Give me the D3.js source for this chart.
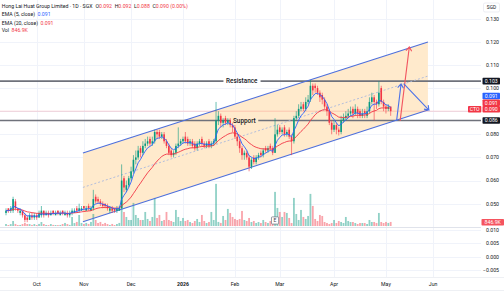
<!DOCTYPE html>
<html lang="en">
<head>
<meta charset="UTF-8">
<script src="https://cdn.jsdelivr.net/npm/d3@7"></script>
<title>Hong Lai Huat Group Limited - 1D</title>
<style>
    body { margin: 0; background: #fff; }
    svg { display: block; font-family: Roboto, "Noto Sans", sans-serif; }
</style>
</head>
<body>
<svg id="chart" width="504" height="294"></svg>
<script>
// ---------------- data ----------------
const opens = [
    .046,.048,.047,.047,.051,.048,.046,.047,.045,.044,.043,.045,.044,
    .045,.044,.045,.047,.045,.046,.045,.047,.045,.047,.045,.047,.045,.046,.045,.046,.046,.048,.047,.047,
    .049,.047,.049,.047,.048,.053,.052,.051,.050,.050,.049,.047,.048,.048,.047,.047,.048,.061,.056,.058,
    .061,.064,.069,.070,.074,.072,.075,.076,.078,.076,.077,.081,.081,.079,.080,.077,.075,.073,.071,.072,.075,.076,
    .077,.079,.078,.076,.077,.076,.074,.076,.078,.076,.075,.077,.075,.076,.077,.086,.088,.085,.087,.085,.086,.084,
    .083,.079,.077,.074,.071,.072,.070,.066,.070,.068,.070,.072,.071,.074,.073,.075,.074,.072,.080,
    .083,.081,.083,.080,.082,.079,.077,.087,.088,.091,.093,.091,.094,.095,.101,.101,.100,.098,.097,.095,.092,.090,.085,
    .082,.084,.082,.081,.086,.087,.088,.089,.091,.089,.091,.090,.088,.090,.088,.090,.094,.096,.094,.093,.100,.094,
    .092,.091,.092
];
const highs = [
    .048,.048,.049,.053,.052,.048,.048,.047,.046,.045,.046,.046,.046,
    .046,.047,.049,.047,.047,.047,.047,.047,.047,.047,.047,.047,.047,.047,.047,.048,.048,.049,.050,.049,
    .049,.049,.050,.049,.056,.054,.053,.052,.051,.050,.050,.049,.049,.048,.049,.049,.067,.062,.060,.062,
    .066,.071,.073,.075,.075,.077,.078,.079,.079,.079,.082,.082,.082,.081,.081,.078,.076,.074,.073,.076,.083,.078,
    .079,.081,.079,.078,.078,.077,.077,.078,.079,.077,.077,.078,.077,.078,.094,.090,.089,.087,.088,.087,.087,.085,
    .084,.080,.078,.075,.073,.073,.071,.070,.071,.071,.072,.073,.074,.075,.075,.076,.075,.087,.084,
    .084,.083,.084,.082,.083,.080,.088,.090,.093,.094,.094,.096,.097,.1035,.102,.102,.101,.099,.098,.096,.093,.091,.086,
    .086,.085,.083,.088,.089,.090,.091,.092,.092,.093,.092,.091,.091,.091,.092,.096,.098,.097,.095,.103,.101,.095,
    .093,.093,.092
];
const lows = [
    .045,.046,.046,.046,.047,.046,.045,.044,.042,.042,.043,.043,.043,
    .043,.044,.044,.044,.045,.044,.045,.045,.045,.045,.045,.045,.045,.044,.044,.045,.046,.046,.046,.047,
    .047,.047,.047,.047,.047,.050,.050,.049,.048,.048,.047,.046,.046,.046,.046,.047,.048,.055,.055,.057,
    .060,.063,.067,.069,.070,.071,.074,.075,.075,.075,.076,.078,.078,.078,.076,.074,.071,.070,.070,.071,.074,.075,
    .076,.076,.075,.075,.074,.073,.073,.075,.075,.074,.074,.074,.074,.075,.076,.084,.083,.083,.084,.084,.083,.081,
    .078,.075,.072,.069,.069,.069,.064,.065,.067,.067,.069,.070,.070,.072,.072,.073,.071,.072,.079,
    .080,.080,.079,.079,.078,.071,.076,.086,.087,.090,.090,.090,.093,.094,.097,.098,.097,.094,.093,.091,.088,.084,.080,
    .081,.080,.0795,.080,.085,.086,.087,.088,.087,.088,.087,.087,.087,.087,.087,.089,.093,.086,.091,.092,.093,.090,
    .089,.090,.088
];
const closes = [
    .047,.047,.048,.052,.048,.047,.047,.045,.043,.043,.045,.044,.045,
    .044,.046,.047,.045,.046,.045,.046,.046,.046,.046,.046,.046,.046,.045,.046,.047,.047,.047,.048,.048,
    .048,.048,.048,.048,.052,.051,.051,.050,.049,.049,.048,.048,.047,.047,.048,.048,.060,.057,.058,.061,
    .064,.069,.070,.073,.072,.075,.076,.077,.076,.077,.081,.080,.079,.080,.077,.075,.072,.071,.072,.075,.076,.077,
    .078,.077,.076,.077,.075,.074,.076,.077,.076,.075,.076,.075,.076,.077,.086,.088,.085,.086,.085,.086,.084,.083,
    .079,.077,.074,.071,.072,.070,.066,.069,.068,.070,.071,.071,.073,.073,.074,.074,.072,.080,.082,
    .081,.082,.080,.081,.079,.077,.087,.088,.091,.092,.091,.094,.095,.101,.099,.100,.098,.096,.095,.092,.090,.085,.082,
    .084,.082,.081,.086,.087,.088,.089,.090,.089,.091,.089,.088,.089,.089,.090,.094,.096,.094,.093,.098,.094,.092,
    .091,.092,.090
];
// volume in thousands of shares
const volumes = [
    420,210,400,1050,430,200,220,410,640,420,400,230,410,
    210,430,840,420,220,200,410,230,210,190,220,420,640,410,230,1890,620,850,2310,640,
    420,640,430,850,2520,1260,630,850,420,640,410,220,430,210,420,640,5460,2940,1890,1260,
    1260,4830,2310,1680,1260,1260,2940,1470,1050,1890,5880,1680,2310,1050,1260,2940,1260,1050,840,3360,1890,1050,
    1680,1050,1260,840,630,1050,1470,840,2310,1050,630,840,2940,1260,8820,850,640,2100,1260,3570,2730,1890,
    1470,1260,1470,3150,1260,1050,1680,840,1050,630,840,630,1260,840,630,1050,840,7140,3780,
    2940,1890,2940,2730,1680,630,5880,2520,1260,3360,1890,1470,2100,6720,4200,1470,1050,2310,2100,840,630,420,630,
    1260,630,1050,840,630,1890,1050,840,840,630,420,630,630,630,420,1260,840,840,630,2730,840,630,
    850,640,846.9
];

// time axis: label and bar index of the first bar of each month
const monthLabels = ["Oct", "Nov", "Dec", "2026", "Feb", "Mar", "Apr", "May", "Jun"];
const monthIdx = [13, 33, 53, 75, 97, 116, 139, 161, 181];

const priceTicks = [0.130, 0.120, 0.110, 0.100, 0.090, 0.080, 0.070, 0.060, 0.050];
const priceTickShown = [true, true, true, true, false, true, true, true, true];
const lowTicks = [0.010, 0.005, 0.000, -0.005];

// indicator values as shown on the chart
const ema5Label = "0.091", ema20Label = "0.091", volLabel = "846.9K";

// drawings, anchored as [bar index, price]
const channelTop = [[32.6, 0.0719], [178.8, 0.1199]];
const channelBottom = [[32.6, 0.0422], [178.8, 0.0905]];
const resistance = 0.103, support = 0.086;
const redArrow = [[167.0, 0.0858], [170.9, 0.1178]];
const blueArrowUp = [[165.5, 0.0858], [167.4, 0.1018]];
const blueArrowDown = [[168.6, 0.1018], [179.2, 0.0905]];
const earningsIdx = 114;

// ---------------- setup ----------------
const UP = "#089981", DOWN = "#f23645", BLUE = "#2962ff";
const paneRight = 481, axisTop = 277;

const x = d3.scaleLinear().domain([0, 1]).range([6, 8.36]);
const y = d3.scaleLinear().domain([0.050, 0.130]).range([203.7, 18.7]);
const yLow = d3.scaleLinear().domain([-0.005, 0.010]).range([270.3, 229.8]);
const yVol = d3.scaleLinear().domain([0, 9000]).range([226, 183]);

const svg = d3.select("#chart");
const fmt = d3.format(".3f");

function ema(vals, n) {
    const k = 2 / (n + 1);
    let e = vals[0];
    return vals.map((v, i) => i === 0 ? e : (e = v * k + e * (1 - k)));
}
const ema5 = ema(closes, 5);
const ema20 = ema(closes, 20);
const bars = closes.map((c, i) => ({ i, o: opens[i], h: highs[i], l: lows[i], c, v: volumes[i] }));

// ---------------- grid ----------------
const grid = svg.append("g").attr("stroke", "#f0f3fa").attr("stroke-width", 1);
grid.selectAll(".hg").data(priceTicks).join("line")
    .attr("x1", 0).attr("x2", paneRight)
    .attr("y1", d => Math.round(y(d)) + 0.5).attr("y2", d => Math.round(y(d)) + 0.5);
grid.selectAll(".lg").data(lowTicks).join("line")
    .attr("x1", 0).attr("x2", paneRight)
    .attr("y1", d => Math.round(yLow(d)) + 0.5).attr("y2", d => Math.round(yLow(d)) + 0.5);
grid.selectAll(".vg").data(monthIdx).join("line")
    .attr("x1", d => Math.round(x(d)) + 0.5).attr("x2", d => Math.round(x(d)) + 0.5)
    .attr("y1", 0).attr("y2", axisTop);

svg.append("line").attr("x1", 0).attr("x2", paneRight).attr("y1", 227.5).attr("y2", 227.5)
    .attr("stroke", "#e0e3eb").attr("stroke-width", 1);
svg.append("line").attr("x1", 0).attr("x2", 504).attr("y1", axisTop + 0.5).attr("y2", axisTop + 0.5)
    .attr("stroke", "#eef0f4").attr("stroke-width", 1);
svg.append("line").attr("x1", 0).attr("x2", 504).attr("y1", 290.5).attr("y2", 290.5)
    .attr("stroke", "#eef0f4").attr("stroke-width", 1);

// ---------------- channel fill ----------------
const pt = p => [x(p[0]), y(p[1])];
svg.append("path")
    .attr("d", "M" + [pt(channelTop[0]), pt(channelTop[1]), pt(channelBottom[1]), pt(channelBottom[0])].join("L") + "Z")
    .attr("fill", "#ffeacc");

// ---------------- volume ----------------
svg.append("g").selectAll("rect").data(bars).join("rect")
    .attr("x", d => x(d.i) - 0.9).attr("width", 1.8)
    .attr("y", d => yVol(d.v)).attr("height", d => yVol(0) - yVol(d.v))
    .attr("fill", d => d.c >= d.o ? UP : DOWN).attr("fill-opacity", 0.45);

// ---------------- support / resistance ----------------
function levelLine(v, label, atIdx) {
    const g = svg.append("g");
    const t = g.append("text").attr("x", 0).attr("y", y(v)).attr("dy", "0.35em")
        .attr("font-size", 6.4).attr("font-weight", 500).attr("fill", "#131722").text(label);
    const cx = x(atIdx);
    const bb = t.node().getBBox();
    t.attr("x", cx - bb.width / 2);
    const segs = [[0, cx - bb.width / 2 - 2.5], [cx + bb.width / 2 + 2.5, paneRight]];
    g.selectAll("line").data(segs).join("line")
        .attr("x1", d => d[0]).attr("x2", d => d[1])
        .attr("y1", y(v)).attr("y2", y(v))
        .attr("stroke", "#6f727b").attr("stroke-width", 1.6);
}
levelLine(resistance, "Resistance", 100);
levelLine(support, "Support", 101);

// ---------------- channel lines ----------------
const line2 = (a, b) => svg.append("line")
    .attr("x1", x(a[0])).attr("y1", y(a[1])).attr("x2", x(b[0])).attr("y2", y(b[1]));
line2(channelTop[0], channelTop[1]).attr("stroke", "#4d6fdc").attr("stroke-width", 1.1);
line2(channelBottom[0], channelBottom[1]).attr("stroke", "#4d6fdc").attr("stroke-width", 1.1);
line2([channelTop[0][0], (channelTop[0][1] + channelBottom[0][1]) / 2],
      [channelTop[1][0], (channelTop[1][1] + channelBottom[1][1]) / 2])
    .attr("stroke", "#a9b8de").attr("stroke-width", 0.9).attr("stroke-dasharray", "2,2");

// ---------------- candles ----------------
const cg = svg.append("g");
cg.selectAll("line").data(bars).join("line")
    .attr("x1", d => x(d.i)).attr("x2", d => x(d.i))
    .attr("y1", d => y(d.h)).attr("y2", d => y(d.l))
    .attr("stroke", d => d.c >= d.o ? UP : DOWN).attr("stroke-width", 0.6);
cg.selectAll("rect").data(bars).join("rect")
    .attr("x", d => x(d.i) - 0.8).attr("width", 1.6)
    .attr("y", d => y(Math.max(d.o, d.c)))
    .attr("height", d => Math.max(0.7, Math.abs(y(d.o) - y(d.c))))
    .attr("fill", d => d.c >= d.o ? UP : DOWN);

// ---------------- EMAs ----------------
const lineGen = d3.line().x((d, i) => x(i)).y(d => y(d));
svg.append("path").attr("d", lineGen(ema20)).attr("fill", "none").attr("stroke", DOWN).attr("stroke-width", 0.9);
svg.append("path").attr("d", lineGen(ema5)).attr("fill", "none").attr("stroke", BLUE).attr("stroke-width", 0.9);

// last price line
const lastClose = closes[closes.length - 1];
svg.append("line").attr("x1", 0).attr("x2", paneRight).attr("y1", y(lastClose)).attr("y2", y(lastClose))
    .attr("stroke", DOWN).attr("stroke-opacity", 0.35).attr("stroke-width", 0.6);

// ---------------- arrows ----------------
function arrow(p, color) {
    const [x1, y1] = pt(p[0]), [x2, y2] = pt(p[1]);
    const a = Math.atan2(y2 - y1, x2 - x1);
    const len = 5, spread = 0.62;
    const h1 = [x2 - len * Math.cos(a - spread), y2 - len * Math.sin(a - spread)];
    const h2 = [x2 - len * Math.cos(a + spread), y2 - len * Math.sin(a + spread)];
    svg.append("path")
        .attr("d", `M${x1},${y1}L${x2},${y2}M${h1}L${x2},${y2}L${h2}`)
        .attr("fill", "none").attr("stroke", color).attr("stroke-width", 1.1);
}
arrow(redArrow, "#f25560");
arrow(blueArrowUp, "#4d73e8");
arrow(blueArrowDown, "#4d73e8");

// earnings marker
const eg = svg.append("g").attr("transform", `translate(${x(earningsIdx)},220.5)`);
eg.append("rect").attr("x", -3.6).attr("y", -3.6).attr("width", 7.2).attr("height", 7.2).attr("rx", 0.8)
    .attr("fill", "#fff").attr("stroke", "#787b86").attr("stroke-width", 0.8);
eg.append("text").attr("text-anchor", "middle").attr("dy", "0.36em").attr("font-size", 5)
    .attr("fill", "#434651").text("E");

// ---------------- price scale ----------------
const ax = svg.append("g").attr("font-size", 5.2).attr("fill", "#131722");
ax.selectAll(".pt").data(priceTicks.filter((d, i) => priceTickShown[i])).join("text")
    .attr("x", 499).attr("y", d => y(d)).attr("dy", "0.35em").attr("text-anchor", "end").text(d => fmt(d));
ax.selectAll(".lt").data(lowTicks).join("text")
    .attr("x", 499).attr("y", d => yLow(d)).attr("dy", "0.35em").attr("text-anchor", "end").text(d => fmt(d));

function tag(cy, text, fill, x0, x1) {
    svg.append("rect").attr("x", x0).attr("y", cy - 3.3).attr("width", x1 - x0).attr("height", 6.6)
        .attr("rx", 0.8).attr("fill", fill);
    svg.append("text").attr("x", (x0 + x1) / 2).attr("y", cy).attr("dy", "0.35em")
        .attr("text-anchor", "middle").attr("font-size", 5.2).attr("fill", "#fff").text(text);
}
tag(y(resistance), fmt(resistance), "#131722", 482.5, 500);
tag(y(support), fmt(support), "#131722", 482.5, 500);
tag(96, ema5Label, BLUE, 482.5, 500);
tag(102.7, ema20Label, DOWN, 482.5, 500);
tag(109.2, fmt(lastClose), DOWN, 482.5, 500);
tag(109.2, "CTO", DOWN, 468, 481.3);
tag(222.3, volLabel, "#f5545f", 481.5, 504);

svg.append("rect").attr("x", 483.5).attr("y", 3).attr("width", 16).attr("height", 9).attr("rx", 1.5)
    .attr("fill", "#fff").attr("stroke", "#e0e3eb").attr("stroke-width", 0.6);
svg.append("text").attr("x", 491.5).attr("y", 7.5).attr("dy", "0.35em").attr("text-anchor", "middle")
    .attr("font-size", 4.8).attr("fill", "#131722").text("SGD");

// ---------------- time axis ----------------
svg.append("g").selectAll("text").data(monthLabels).join("text")
    .attr("x", (d, i) => x(monthIdx[i])).attr("y", 284.3).attr("dy", "0.35em")
    .attr("text-anchor", "middle").attr("font-size", 5.2)
    .attr("font-weight", d => d === "2026" ? 700 : 400)
    .attr("fill", "#131722").text(d => d);

// ---------------- legend ----------------
const lg = svg.append("g").attr("font-size", 5.2);
const t1 = lg.append("text").attr("x", 1.7).attr("y", 6).attr("dy", "0.35em").attr("fill", "#131722");
t1.append("tspan").text("Hong Lai Huat Group Limited · 1D · SGX");
[["O", opens], ["H", highs], ["L", lows], ["C", closes]].forEach(([k, arr], j) => {
    t1.append("tspan").attr("dx", j === 0 ? 3 : 2.6).text(k);
    t1.append("tspan").attr("fill", DOWN).text(fmt(arr[arr.length - 1]));
});
t1.append("tspan").attr("fill", DOWN).attr("dx", 1.4).text("(0.00%)");

const t2 = lg.append("text").attr("x", 1.7).attr("y", 14.6).attr("dy", "0.35em").attr("fill", "#131722");
t2.append("tspan").text("EMA (5, close)");
t2.append("tspan").attr("dx", 2.5).attr("fill", BLUE).text(ema5Label);
const t3 = lg.append("text").attr("x", 1.7).attr("y", 22.8).attr("dy", "0.35em").attr("fill", "#131722");
t3.append("tspan").text("EMA (20, close)");
t3.append("tspan").attr("dx", 2.5).attr("fill", DOWN).text(ema20Label);
const t4 = lg.append("text").attr("x", 1.7).attr("y", 30.3).attr("dy", "0.35em").attr("fill", "#131722");
t4.append("tspan").text("Vol");
t4.append("tspan").attr("dx", 2.5).attr("fill", DOWN).text(volLabel);
</script>
</body>
</html>
